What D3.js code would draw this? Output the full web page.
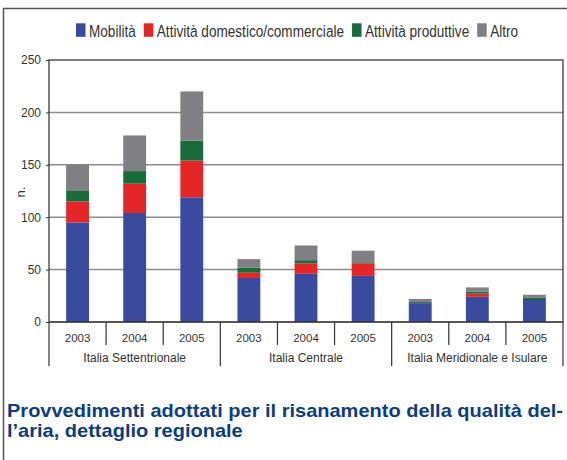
<!DOCTYPE html>
<meta charset="utf-8">
<style>
body { margin: 0; background: #fff; }
text { font-family: "Liberation Sans", Arial, sans-serif; fill: #333; }
.legend text { font-family: "Liberation Sans Narrow", "Arial Narrow", "Liberation Sans", sans-serif; font-size: 17px; }
.title text { font-family: "Liberation Sans Narrow", "Arial Narrow", "Liberation Sans", sans-serif; font-weight: bold; font-size: 19px; fill: #0c3d80; }
.grid line { stroke: #8c8c8c; stroke-width: 1.5px; }
.sep { stroke: #333; stroke-width: 1.2px; }
</style>
<svg width="567" height="460"></svg>
<script src="https://cdn.jsdelivr.net/npm/d3@7"></script>
<script>

var years = ["2003", "2004", "2005"];
var regions = ["Italia Settentrionale", "Italia Centrale", "Italia Meridionale e Isulare"];
var seriesNames = ["Mobilità", "Attività domestico/commerciale", "Attività produttive", "Altro"];
var colors = ["#3a4b9f", "#e42726", "#196b39", "#7f7f84"];

// one value per bar: Sett. 2003-2005, Centr. 2003-2005, Merid. 2003-2005
var mobilita   = [95, 104, 119, 42, 46, 44, 18, 24, 21];
var domestico  = [20, 28, 35, 5, 10, 12, 0, 3, 0];
var produttive = [10, 12, 19, 5, 3, 1, 1, 2, 2];
var altro      = [25, 34, 47, 8, 14, 11, 3, 4, 3];
var yTicks = [0, 50, 100, 150, 200, 250];

var svg = d3.select("svg"),
    plotL = 49, plotR = 563, plotT = 60, plotB = 322;

// outer frame (left + top edges visible)
svg.append("path")
    .attr("d", "M3.5,460V8.5H567")
    .attr("fill", "none")
    .attr("stroke", "#555")
    .attr("stroke-width", 1.5);

var slots = [];
regions.forEach(function(r, i) {
  years.forEach(function(y, j) { slots.push({region: r, year: y, key: i + "-" + y}); });
});

var x = d3.scaleBand()
    .domain(slots.map(function(d) { return d.key; }))
    .range([plotL, plotR])
    .paddingInner(0.6)
    .paddingOuter(0.3);
var step = x.step();

var y = d3.scaleLinear().domain([0, 250]).range([plotB, plotT]);

var data = slots.map(function(s, i) {
  return {key: s.key, m: mobilita[i], d: domestico[i], p: produttive[i], a: altro[i]};
});
var layers = d3.stack().keys(["m", "d", "p", "a"])(data);

// gridlines
svg.append("g").attr("class", "grid")
  .selectAll("line")
  .data(yTicks.slice(1, -1))
  .enter().append("line")
    .attr("x1", plotL).attr("x2", plotR)
    .attr("y1", function(d) { return y(d); })
    .attr("y2", function(d) { return y(d); });

// bars
svg.append("g").selectAll("g")
  .data(layers)
  .enter().append("g")
    .attr("fill", function(d, i) { return colors[i]; })
  .selectAll("rect")
  .data(function(d) { return d; })
  .enter().append("rect")
    .attr("x", function(d) { return x(d.data.key); })
    .attr("width", x.bandwidth())
    .attr("y", function(d) { return y(d[1]); })
    .attr("height", function(d) { return y(d[0]) - y(d[1]); });

// plot box
svg.append("rect")
    .attr("x", plotL).attr("y", plotT)
    .attr("width", plotR - plotL).attr("height", plotB - plotT)
    .attr("fill", "none")
    .attr("stroke", "#3a3a3a")
    .attr("stroke-width", 1.3);

// y axis
var yAxis = svg.append("g")
    .attr("transform", "translate(" + plotL + ",0)")
    .call(d3.axisLeft(y).tickValues(yTicks).tickSize(3).tickPadding(5));
yAxis.select(".domain").remove();
yAxis.selectAll("line").attr("stroke", "#333");
yAxis.selectAll("text").style("font-size", "12px").attr("fill", "#333")
    .style("font-family", "'Liberation Sans', Arial, sans-serif");

svg.append("text")
    .attr("transform", "translate(20," + ((plotT + plotB) / 2 + 1) + ") rotate(-90)")
    .attr("text-anchor", "middle")
    .attr("dy", "0.35em")
    .style("font-size", "13px")
    .text("n.");

// x axis: year separators, year labels, region separators, region labels
svg.append("line").attr("class", "sep")
    .attr("x1", plotL).attr("x2", plotR).attr("y1", plotB).attr("y2", plotB)
    .attr("stroke-width", 1.6);

var sepX = d3.range(slots.length + 1).map(function(i) { return plotL + i * step; });
svg.append("g").selectAll("line")
  .data(sepX)
  .enter().append("line")
    .attr("class", "sep")
    .attr("x1", function(d) { return d; }).attr("x2", function(d) { return d; })
    .attr("y1", plotB)
    .attr("y2", function(d, i) { return i % 3 === 0 ? 366 : 345; });

svg.append("g").selectAll("text")
  .data(slots)
  .enter().append("text")
    .attr("x", function(d) { return x(d.key) + x.bandwidth() / 2; })
    .attr("y", 338)
    .attr("dy", "0.35em")
    .attr("text-anchor", "middle")
    .style("font-size", "11.5px")
    .text(function(d) { return d.year; });

svg.append("g").selectAll("text")
  .data(regions)
  .enter().append("text")
    .attr("x", function(d, i) { return plotL + (i * 3 + 1.5) * step; })
    .attr("y", 358)
    .attr("dy", "0.35em")
    .attr("text-anchor", "middle")
    .style("font-size", "12px")
    .text(function(d) { return d; });

// legend (narrow lettering: squeeze the regular face horizontally)
var squeeze = 0.8;
var legend = svg.append("g").attr("class", "legend");
var items = legend.selectAll("g")
  .data(seriesNames)
  .enter().append("g");
items.append("rect")
    .attr("width", 9.5).attr("height", 13.5)
    .attr("y", 23.3)
    .attr("fill", function(d, i) { return colors[i]; });
items.append("text")
    .attr("transform", "translate(13,36.5) scale(" + squeeze + ",1)")
    .text(function(d) { return d; });
var lx = 0;
items.each(function() {
  var g = d3.select(this),
      w = g.select("text").node().getComputedTextLength() * squeeze;
  g.attr("transform", "translate(" + lx + ",0)");
  lx += 13 + w + 8;
});
legend.attr("transform", "translate(76,0)");

// title
var titleLines = ["Provvedimenti adottati per il risanamento della qualità del-", "l\u2019aria, dettaglio regionale"];
var tl = svg.append("g").attr("class", "title").selectAll("text")
  .data(titleLines)
  .enter().append("text")
    .attr("x", 7)
    .attr("y", function(d, i) { return 417 + i * 20; })
    .text(function(d) { return d; });
var natural = tl.nodes().map(function(n) { return n.getComputedTextLength(); });
var k = 556 / natural[0];
tl.attr("textLength", function(d, i) { return natural[i] * k; })
  .attr("lengthAdjust", "spacingAndGlyphs");

</script>
